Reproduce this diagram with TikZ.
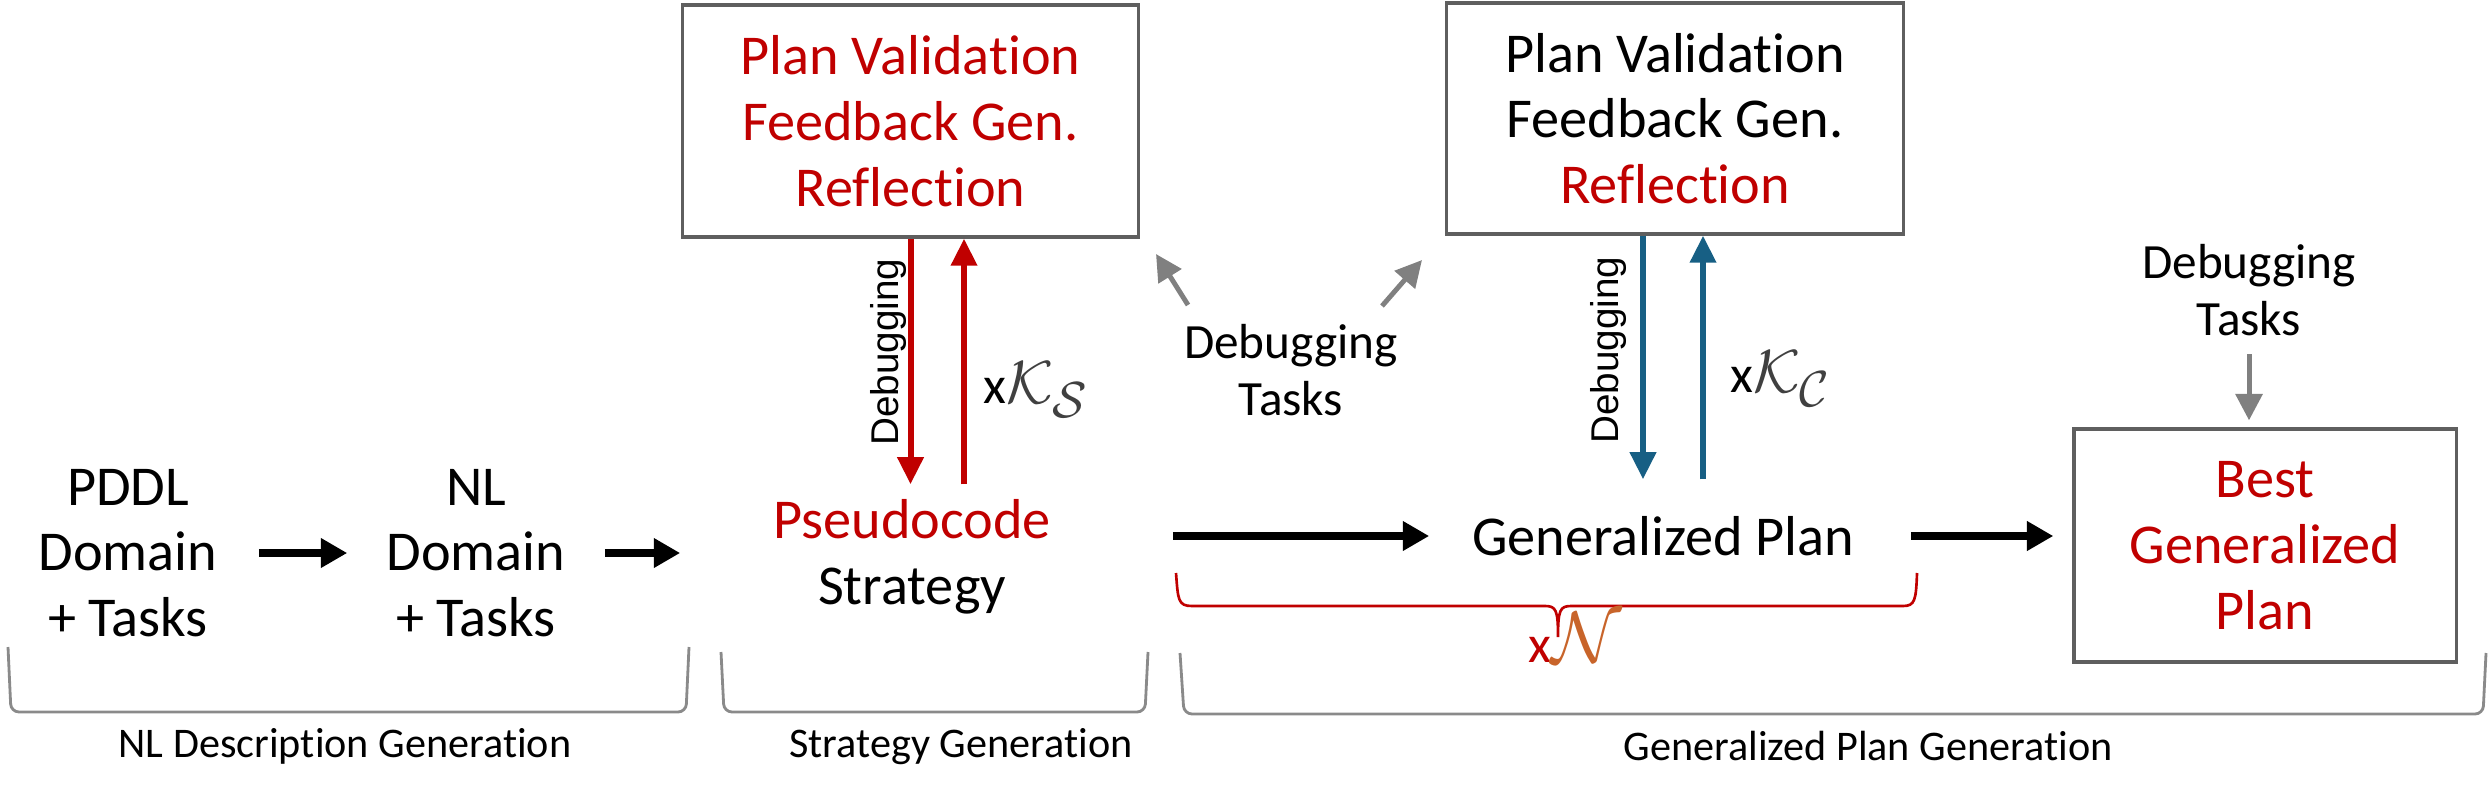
\documentclass[tikz,border=0pt]{standalone}
\usepackage{fontspec}
\setmainfont{Carlito}[Ligatures={NoCommon}]
\newfontfamily\dbgfont{Liberation Sans}
\usepackage{xcolor}
\usepackage{tikz}
\usetikzlibrary{arrows.meta,positioning}
\definecolor{planred}{HTML}{C00000}
\definecolor{planblue}{HTML}{175F84}
\definecolor{boxgray}{HTML}{5F5F5F}
\definecolor{tipgray}{HTML}{808080}
\definecolor{bracegray}{HTML}{8A8A8A}
\definecolor{nbrown}{HTML}{C8642A}

\begin{document}
\begin{tikzpicture}[x=0.01cm, y=-0.01cm,
  bigtxt/.style={align=center, font=\fontsize{16}{18.7}\selectfont, inner sep=0pt},
  smalltxt/.style={align=center, font=\fontsize{14}{16.3}\selectfont},
  stagebox/.style={bigtxt, draw=boxgray, line width=0.9pt, minimum height=2.32cm},
  phase/.style={font=\fontsize{12}{14}\selectfont, anchor=base},
  vlabel/.style={rotate=90, font=\dbgfont\fontsize{11}{13}\selectfont},
  count/.style={anchor=west, inner sep=0pt, font=\fontsize{15}{18}\selectfont},
  flow/.style={line width=2.2pt, -{Triangle[length=7.5pt,width=8pt]}},
  redloop/.style={planred, line width=1.7pt, -{Triangle[length=7.7pt,width=7.2pt]}},
  blueloop/.style={planblue, line width=1.7pt, -{Triangle[length=7.7pt,width=7.2pt]}},
  hint/.style={tipgray, line width=1.4pt, -{Triangle[length=7.5pt,width=7.5pt]}},
  bracket/.style={bracegray, line width=0.8pt, rounded corners=0.08cm}]
\useasboundingbox (0,0) rectangle (2489,797);

% NL description stage
\node[bigtxt, minimum width=2.6cm] (pddl) at (128,553) {PDDL\\Domain\\+ Tasks};
\node[bigtxt, minimum width=2.56cm] (nl) at (476,553) {NL\\Domain\\+ Tasks};
\draw[flow] (pddl) -- (nl);

% Strategy stage
\node[bigtxt, minimum width=4.62cm, minimum height=1.44cm] (pseudo) at (912,557) {\textcolor{planred}{Pseudocode}\\Strategy};
\node[stagebox, minimum width=4.55cm, text=planred] (val1) at (910.5,121) {Plan Validation\\Feedback Gen.\\Reflection};
\draw[flow] (nl.east) -- (nl.east -| pseudo.west);
\draw[redloop] (val1.south) -- (val1.south |- pseudo.north);
\draw[redloop] ([xshift=0.52cm]pseudo.north) -- ([xshift=0.52cm]pseudo.north |- val1.south);
\node[vlabel] (dbgv1) at (888,352) {Debugging};
\node[count] (ks) at (983,390) {x{\fontsize{19}{22}\selectfont\color{black!75}$\mathcal{K}_{\mathcal{S}}$}};

% shared debugging tasks
\node[smalltxt] (dbg1) at (1291,370) {Debugging\\Tasks};
\draw[hint] ([shift={(-103,-65)}]dbg1.center) -- ++(-32,-51);
\draw[hint] ([shift={(91,-64)}]dbg1.center) -- ++(40,-46);

% Generalized plan stage
\node[bigtxt, minimum width=4.66cm, minimum height=1.12cm] (gplan) at (1663,536) {Generalized Plan};
\node[stagebox, minimum width=4.56cm, minimum height=2.31cm] (val2) at (1675,118.5) {Plan Validation\\Feedback Gen.\\\textcolor{planred}{Reflection}};
\draw[flow, shorten <=0.29cm] (pseudo.east |- gplan.west) -- (gplan.west);
\draw[blueloop] ([xshift=-0.32cm]val2.south) -- ([xshift=-0.32cm]val2.south |- gplan.north);
\draw[blueloop] ([xshift=0.28cm]val2.south |- gplan.north) -- ([xshift=0.28cm]val2.south);
\node[vlabel] (dbgv2) at (1608,350) {Debugging};
\node[count] (kc) at (1730,379) {x{\fontsize{19}{22}\selectfont\color{black!75}$\mathcal{K}_{\mathcal{C}}$}};

% repeated N times
\draw[planred, line width=0.75pt] (1176,573) .. controls (1178,600) and (1178,606) .. (1192,606) -- (1545,606)
  .. controls (1556,606) and (1558,610) .. (1558,637) .. controls (1558,610) and (1560,606) .. (1571,606)
  -- (1903,606) .. controls (1915,606) and (1916,600) .. (1917,573);
\node[anchor=base west, inner sep=0pt, font=\fontsize{15}{18}\selectfont] (xn) at (1528,662) {\textcolor{planred}{x}{\fontsize{20}{24}\selectfont\color{nbrown}$\mathcal{N}$}};

% Best plan
\node[stagebox, minimum width=3.82cm, minimum height=2.33cm, text=planred] (best) at (2265,545.5) {Best\\Generalized\\Plan};
\node[smalltxt] (dbg2) at (2249,290) {Debugging\\Tasks};
\draw[flow, shorten <=0.14cm, shorten >=0.19cm] (gplan.east) -- (best.west |- gplan.east);
\draw[hint, shorten <=0.06cm, shorten >=0.07cm] (dbg2.south) -- (dbg2.south |- best.north);

% stage brackets
\draw[bracket] (8,647) -- (11,712) -- (686,712) -- (689,647);
\draw[bracket] (721,652) -- (724,712) -- (1145,712) -- (1148,652);
\draw[bracket] (1180,653) -- (1184,714) -- (2483,714) -- (2486,653);
\node[phase] (ph1) at (345,757) {NL Description Generation};
\node[phase] (ph2) at (961,757) {Strategy Generation};
\node[phase] (ph3) at (1868,760) {Generalized Plan Generation};
\end{tikzpicture}
\end{document}
